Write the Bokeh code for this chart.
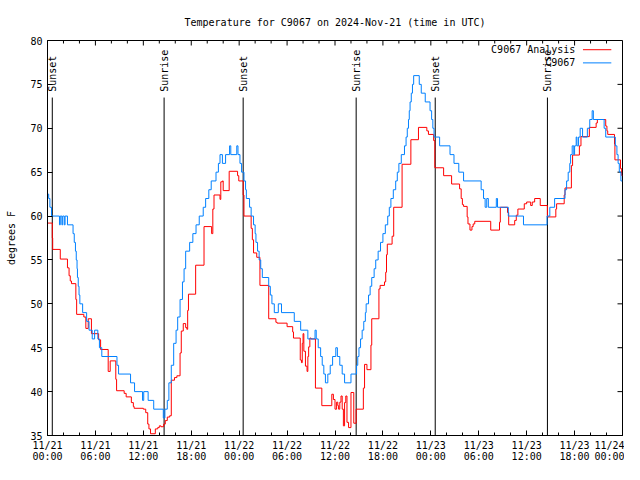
import numpy as np
from bokeh.plotting import figure
from bokeh.models import FixedTicker, Range1d, Label
from bokeh.embed import file_html
from bokeh.resources import INLINE
from bokeh.core.properties import value

FONT = "DejaVu Sans Mono"

title_text = "Temperature for C9067 on 2024-Nov-21 (time in UTC)"
y_label = "degrees F"

# x axis: hours since 2024-11-21 00:00 UTC
x_ticks = [0, 6, 12, 18, 24, 30, 36, 42, 48, 54, 60, 66, 72]
x_tick_labels = ["11/21\n00:00", "11/21\n06:00", "11/21\n12:00", "11/21\n18:00",
                 "11/22\n00:00", "11/22\n06:00", "11/22\n12:00", "11/22\n18:00",
                 "11/23\n00:00", "11/23\n06:00", "11/23\n12:00", "11/23\n18:00",
                 "11/24\n00:00"]
x_minor_ticks = list(range(0, 73, 2))
y_ticks = [35, 40, 45, 50, 55, 60, 65, 70, 75, 80]

# C9067 Analysis (red)
analysis_hours = [0.0, 0.6, 0.65, 1.6, 2.5, 2.7, 2.85, 3.0, 3.55, 3.65, 4.55, 4.8, 5.1, 5.5, 6.4, 6.65,
                  7.6, 7.85, 8.55, 8.65, 9.6, 9.85, 10.5, 10.75, 10.85, 12.0, 12.3, 12.55, 12.7, 12.9,
                  13.5, 13.8, 14.0, 14.2, 14.55, 14.75, 15.0, 15.3, 15.5, 15.9, 16.2, 16.6, 16.75, 17.0,
                  17.3, 17.45, 17.55, 17.65, 18.55, 19.6, 20.55, 20.7, 20.85, 21.6, 21.7, 21.9, 22.0,
                  22.75, 23.8, 23.95, 24.5, 24.6, 25.5, 25.65, 25.8, 26.2, 26.6, 27.7, 28.6, 28.75,
                  30.0, 30.7, 30.8, 31.65, 31.8, 31.9, 32.0, 32.1, 32.3, 32.5, 32.6, 32.7, 32.85, 33.0,
                  33.55, 34.35, 35.6, 35.8, 36.0, 36.2, 36.35, 36.45, 36.6, 36.75, 36.9, 37.05, 37.2,
                  37.35, 37.5, 37.7, 38.0, 38.35, 38.65, 39.55, 39.7, 40.0, 40.5, 40.6, 41.5, 41.65,
                  42.2, 42.35, 42.45, 42.55, 43.15, 43.35, 44.4, 45.5, 46.45, 47.5, 47.7, 48.35, 48.5,
                  49.6, 50.6, 51.6, 51.8, 51.95, 52.1, 52.55, 52.65, 52.9, 53.15, 53.3, 53.5, 55.5,
                  56.6, 56.7, 57.6, 57.75, 58.5, 58.7, 58.9, 59.7, 60.0, 60.5, 60.7, 61.0, 61.7, 62.6,
                  63.65, 63.75, 64.7, 64.8, 65.6, 65.75, 66.6, 66.8, 67.85, 68.7, 68.85, 69.9, 70.05,
                  70.15, 71.0, 71.05, 71.75, 71.9, 72.0]
analysis_temps = [59.2, 57.5, 56.2, 55.1, 54.1, 53.2, 52.6, 52.3, 50.5, 48.8, 48.5, 47.2, 48.3, 46.6, 45.9, 44.8,
                  42.3, 43.5, 41.4, 40.1, 39.8, 39.4, 38.75, 38.3, 38.1, 38.0, 37.6, 36.3, 35.75, 35.2,
                  35.75, 35.9, 36.1, 36.0, 36.3, 36.7, 37.1, 37.25, 41.3, 41.6, 41.8, 44.4, 46.9, 47.75,
                  47.3, 47.1, 49.25, 51.1, 54.4, 58.8, 58.0, 60.8, 62.4, 61.9, 63.9, 64.0, 62.9,
                  65.1, 64.6, 64.0, 62.4, 60.0, 58.6, 57.3, 55.8, 55.3, 52.1, 48.3, 47.9, 47.8,
                  47.4, 46.8, 46.1, 43.6, 43.3, 45.5, 46.6, 44.6, 42.9, 42.3, 44.0, 45.1, 46.1, 46.0,
                  40.4, 38.4, 39.7, 39.1, 38.0, 38.8, 38.4, 38.0, 38.8, 39.5, 38.0, 36.1, 38.75,
                  39.5, 36.5, 35.9, 39.9, 36.4, 38.0, 40.4, 43.1, 42.5, 45.3, 48.3, 51.7, 52.1,
                  52.5, 53.6, 55.6, 56.8, 57.7, 61.0, 65.9, 68.7, 70.1, 69.7, 69.3, 68.6, 65.5,
                  64.6, 63.65, 63.1, 62.0, 61.3, 61.1, 59.9, 59.1, 58.4, 58.8, 59.1, 59.4, 58.4,
                  59.3, 61.0, 60.4, 59.0, 59.5, 60.1, 60.8, 61.4, 61.6, 61.2, 61.6, 62.0, 61.2, 59.9,
                  60.8, 61.4, 62.4, 63.2, 65.75, 66.95, 68.0, 69.05, 70.1, 70.6, 71.0, 70.25, 69.7,
                  69.3, 68.2, 66.4, 65.4, 64.6, 64.6]

# C9067 observations (blue)
station_hours = [0.0, 0.15, 0.3, 0.5, 1.5, 1.6, 1.8, 1.9, 2.1, 2.2, 2.5, 3.2, 3.35, 3.5, 3.6, 3.7, 3.75, 3.85,
                 3.95, 4.05, 4.4, 4.9, 5.2, 5.6, 5.9, 6.3, 6.5, 6.8, 8.7, 8.9, 10.4, 10.9, 11.9, 12.05,
                 12.6, 13.3, 14.5, 14.7, 15.0, 15.2, 15.5, 15.8, 16.1, 16.3, 16.6, 16.9, 17.1, 17.3,
                 17.8, 18.2, 18.6, 19.0, 19.5, 19.8, 20.2, 20.5, 21.1, 21.4, 21.6, 21.9, 22.3, 22.8,
                 22.95, 23.7, 23.85, 24.1, 24.3, 24.6, 24.8, 24.9, 25.3, 25.5, 25.8, 26.0, 26.1, 26.3,
                 26.5, 26.7, 26.9, 27.7, 27.9, 28.1, 28.4, 28.9, 29.3, 30.9, 31.7, 32.6, 33.5, 33.65,
                 33.9, 34.2, 34.4, 34.6, 34.8, 35.1, 35.4, 35.7, 36.1, 36.3, 36.6, 36.9, 37.2, 38.0,
                 38.7, 38.85, 39.0, 39.2, 39.4, 39.6, 39.8, 39.9, 40.2, 40.4, 40.6, 40.9, 41.1, 41.4,
                 41.7, 42.0, 42.3, 42.6, 42.8, 43.0, 43.3, 43.6, 43.8, 44.0, 44.3, 44.7, 44.9, 45.05,
                 45.2, 45.3, 45.4, 45.55, 45.7, 45.85, 46.55, 46.8, 47.3, 47.9, 48.1, 48.25, 48.4,
                 49.1, 50.4, 50.9, 51.5, 52.1, 54.3, 54.6, 54.8, 55.0, 55.2, 56.2, 56.35, 57.7, 59.6,
                 62.55, 62.9, 63.5, 64.8, 65.0, 65.2, 65.4, 65.5, 65.7, 65.9, 66.0, 66.2, 66.3, 66.5,
                 66.7, 67.0, 67.6, 67.9, 68.2, 68.35, 69.7, 69.9, 71.1, 71.3, 71.45, 71.6, 71.8, 72.0]
station_temps = [62.5, 62, 61, 60, 59, 60, 59, 60, 59, 60, 59, 58, 57, 56, 55, 54, 53, 52,
                 51, 50, 49, 48, 47, 46, 47, 46, 45, 44, 43, 42, 41, 40, 39, 40,
                 39, 38, 37, 38, 39, 41, 43, 45.5, 47, 48.5, 50.5, 52.5, 54, 56,
                 57, 58, 59, 60, 61, 62, 63, 64, 65, 66, 67, 66, 67, 68,
                 67, 68, 67, 66, 65, 64, 63, 62, 61, 60, 59, 58, 57, 56,
                 55, 54, 53, 52, 51, 50, 49, 50, 49, 48, 47, 46, 47, 46,
                 45, 44, 43, 42, 41, 42, 43, 44, 45, 44, 43, 42, 41, 42,
                 43, 44, 45, 46, 47, 48, 49, 50, 51, 52, 53, 54, 55, 56,
                 57, 58, 59, 60, 61, 62, 63, 64, 65, 66, 67, 68, 69, 70,
                 71, 72, 73, 74, 75, 76, 75, 74, 73, 72, 71, 70, 69,
                 68, 67, 66, 65, 64, 63, 62, 61, 62, 61, 62, 61, 60, 59,
                 60, 61, 62, 63, 64, 65, 66, 67, 68, 67, 68, 69, 68, 69,
                 70, 69, 70, 71, 72, 71, 70, 69, 68, 67, 66, 65, 64, 64]

sun_event_hours = [0.6, 14.6, 24.5, 38.65, 48.55, 62.6]
sun_event_labels = ["Sunset", "Sunrise", "Sunset", "Sunrise", "Sunset", "Sunrise"]

series_names = ["C9067 Analysis", "C9067"]
series_colors = ["#ff0000", "#0080ff"]

W, H = 624, 464
BL, BR, BT, BB = 47, 2, 40, 29
X0, X1, Y0, Y1 = 0, 72, 35, 80

p = figure(width=W, height=H, x_range=Range1d(X0, X1), y_range=Range1d(Y0, Y1),
           output_backend="svg", toolbar_location=None, title=title_text,
           min_border_left=BL, min_border_right=BR, min_border_top=BT, min_border_bottom=BB)
p.background_fill_color = "white"
p.border_fill_color = "white"
p.outline_line_color = "black"
p.outline_line_width = 1
p.xgrid.visible = False
p.ygrid.visible = False

p.title.text_font = FONT
p.title.text_font_size = "10px"
p.title.text_font_style = "normal"
p.title.text_color = "black"
p.title.align = "center"
p.title.standoff = 26

xt = FixedTicker(ticks=x_ticks, minor_ticks=x_minor_ticks)
yt = FixedTicker(ticks=y_ticks, minor_ticks=[])

xa = p.xaxis[0]
xa.ticker = xt
xa.major_label_overrides = {t: l for t, l in zip(x_ticks, x_tick_labels)}
ya = p.yaxis[0]
ya.ticker = yt
ya.axis_label = y_label
for ax in (xa, ya):
    ax.major_label_text_font = FONT
    ax.major_label_text_font_size = "10px"
    ax.major_label_text_color = "black"
    ax.axis_line_color = "black"
    ax.major_tick_line_color = "black"
    ax.minor_tick_line_color = "black"
    ax.major_tick_in = 5
    ax.major_tick_out = 0
    ax.minor_tick_in = 3
    ax.minor_tick_out = 0
    ax.axis_label_text_font = FONT
    ax.axis_label_text_font_size = "10px"
    ax.axis_label_text_font_style = "normal"
    ax.axis_label_text_color = "black"
xa.major_label_standoff = 4
xa.major_label_text_line_height = 1.0
ya.major_label_standoff = 5
ya.axis_label_standoff = 10

# mirrored ticks on top and right borders (gnuplot style)
px_per_hour = (W - BL - BR) / (X1 - X0)
px_per_deg = (H - BT - BB) / (Y1 - Y0)
top_major = x_ticks
top_minor = [t for t in x_minor_ticks if t not in x_ticks]
p.segment(x0=top_major, y0=[Y1] * len(top_major), x1=top_major,
          y1=[Y1 - 5 / px_per_deg] * len(top_major), line_color="black", line_width=1)
p.segment(x0=top_minor, y0=[Y1] * len(top_minor), x1=top_minor,
          y1=[Y1 - 3 / px_per_deg] * len(top_minor), line_color="black", line_width=1)
p.segment(x0=[X1] * len(y_ticks), y0=y_ticks, x1=[X1 - 5 / px_per_hour] * len(y_ticks),
          y1=y_ticks, line_color="black", line_width=1)

# sunrise / sunset markers
p.segment(x0=sun_event_hours, y0=[Y0] * len(sun_event_hours), x1=sun_event_hours,
          y1=[73.5] * len(sun_event_hours), line_color="black", line_width=1)
p.text(x=sun_event_hours, y=[74.15] * len(sun_event_hours), text=sun_event_labels,
       angle=np.pi / 2, text_align="left", text_baseline="middle",
       text_font=value(FONT), text_font_size="10px", text_color="black")

p.step(analysis_hours, analysis_temps, mode="after", line_color=series_colors[0], line_width=1)
p.step(station_hours, station_temps, mode="after", line_color=series_colors[1], line_width=1)

# legend (gnuplot style: text right-justified, sample to the right)
leg_y = [78.95, 77.45]
for name, color, yy in zip(series_names, series_colors, leg_y):
    p.add_layout(Label(x=66.1, y=yy, text=name, text_align="right", text_baseline="middle",
                       text_font=FONT, text_font_size="10px", text_color="black"))
    p.line([67.05, 70.6], [yy, yy], line_color=color, line_width=1)

open("out.html", "w").write(file_html(p, INLINE))
